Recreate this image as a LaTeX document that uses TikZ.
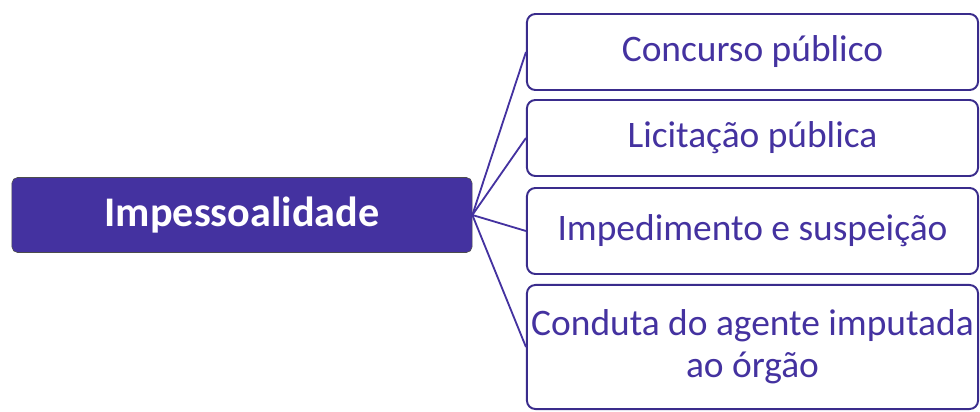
\documentclass[tikz,border=0pt]{standalone}
\usepackage{fontspec}
\setmainfont{Carlito}
\usepackage{tikz}

\definecolor{roxo}{HTML}{4432A0}
\definecolor{borda}{HTML}{3A2C8C}

\tikzset{
  mainbox/.style={draw=black!70, fill=roxo, text=white, rounded corners=4pt,
    minimum width=11.5cm, minimum height=1.875cm, inner sep=0pt,
    font=\fontsize{30}{34}\selectfont\bfseries},
  itembox/.style={draw=borda, line width=1.4pt, fill=white, text=roxo, rounded corners=6pt,
    minimum width=11.275cm, inner sep=0pt, align=center,
    font=\fontsize{26.6}{30}\selectfont},
  ligacao/.style={roxo, line width=1.3pt},
}

\begin{document}
\begin{tikzpicture}[x=0.025cm,y=-0.025cm]
\useasboundingbox (0,0) rectangle (980,412);
\node[mainbox] (imp) at (242,215) {Impessoalidade};
\node[itembox, minimum height=1.9cm] (c1) at (752.5,52) {Concurso público};
\node[itembox, minimum height=1.9cm] (c2) at (752.5,138) {Licitação pública};
\node[itembox, minimum height=2.15cm] (c3) at (752.5,231) {Impedimento e suspeição};
\node[itembox, minimum height=3.1cm] (c4) at (752.5,347) {Conduta do agente imputada\\ao órgão};
\draw[ligacao] (imp.east) -- (c1.west) ;
\draw[ligacao] (imp.east) -- (c2.west) ;
\draw[ligacao] (imp.east) -- (c3.west) ;
\draw[ligacao] (imp.east) -- (c4.west) ;
\end{tikzpicture}
\end{document}
